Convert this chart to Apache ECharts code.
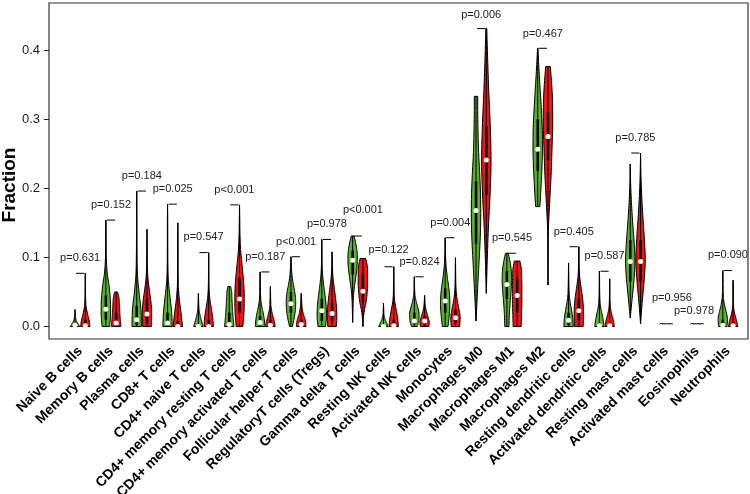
<!DOCTYPE html>
<html><head><meta charset="utf-8">
<script src="https://cdn.jsdelivr.net/npm/echarts@6/dist/echarts.min.js"></script>
<style>html,body{margin:0;padding:0;background:#fff}#c{width:750px;height:494px}</style>
</head><body><div id="c"></div>
<script>
const categories = ['Naive B cells','Memory B cells','Plasma cells','CD8+ T cells','CD4+ naive T cells',
  'CD4+ memory resting T cells','CD4+ memory activated T cells','Follicular helper T cells',
  'RegulatoryT cells (Tregs)','Gamma delta T cells','Resting NK cells','Activated NK cells','Monocytes',
  'Macrophages M0','Macrophages M1','Macrophages M2','Resting dendritic cells','Activated dendritic cells',
  'Resting mast cells','Activated mast cells','Eosinophils','Neutrophils'];
const pLabels = ['p=0.631','p=0.152','p=0.184','p=0.025','p=0.547','p<0.001','p=0.187','p<0.001','p=0.978',
  'p<0.001','p=0.122','p=0.824','p=0.004','p=0.006','p=0.545','p=0.467','p=0.405','p=0.587','p=0.785',
  'p=0.956','p=0.978','p=0.090'];
const bracketTop = [0.077,0.154,0.196,0.177,0.107,0.176,0.079,0.101,0.126,0.131,0.0865,0.072,0.1285,0.431,
  0.106,0.4025,0.1155,0.080,0.251,0.004,0.004,0.081];
const pLabelAt = [0.099,0.176,0.218,0.199,0.129,0.198,0.101,0.123,0.148,0.168,0.111,0.094,0.1505,0.451,
  0.128,0.4225,0.1375,0.102,0.273,0.0416,0.023,0.103];
const yTicks = [0, 0.1, 0.2, 0.3, 0.4];

// Normal group (green): [min, max], [q1, median, q3], relative density widths at 9 levels from min to max
const greenRange = [[0,0.0246],[0,0.154],[0,0.196],[0,0.177],[0,0.048],[0,0.058],[0,0.079],[0,0.101],[0,0.126],
  [0.006,0.131],[0,0.034],[0,0.072],[0,0.1285],[0.008,0.333],[0,0.106],[0.1735,0.4025],[0,0.092],[0,0.080],
  [0.0126,0.235],[0,0.004],[0,0.004],[0,0.081]];
const greenBox = [[0,0.002,0.005],[0.01,0.025,0.045],[0.002,0.01,0.03],[0.001,0.005,0.02],[0,0,0.003],
  [0,0.003,0.02],[0.002,0.006,0.015],[0.02,0.033,0.05],[0.008,0.023,0.04],[0.075,0.096,0.11],[0,0,0.001],
  [0.003,0.008,0.02],[0.02,0.037,0.055],[0.12,0.168,0.21],[0.04,0.061,0.08],[0.225,0.2565,0.3],
  [0.002,0.009,0.02],[0,0.001,0.005],[0.065,0.094,0.125],[0,0,0],[0,0,0],[0,0.002,0.01]];
const greenShape = [
  [1,0.75,0.45,0.25,0.15,0.1,0.06,0.03,0],
  [0.8,1,0.95,0.7,0.3,0.1,0.05,0.03,0],
  [1,0.9,0.5,0.18,0.08,0.05,0.04,0.03,0],
  [1,0.85,0.5,0.18,0.07,0.05,0.04,0.03,0],
  [1,0.75,0.5,0.3,0.15,0.1,0.06,0.03,0],
  [1,0.9,0.8,0.72,0.66,0.6,0.55,0.5,0.3],
  [1,0.9,0.65,0.35,0.15,0.08,0.05,0.03,0],
  [0.3,0.7,0.95,1,0.8,0.45,0.2,0.08,0],
  [0.8,1,0.9,0.65,0.35,0.14,0.06,0.03,0],
  [0,0.05,0.12,0.3,0.6,0.9,1,0.8,0.3],
  [1,0.75,0.45,0.25,0.12,0.08,0.05,0.02,0],
  [0.6,0.95,1,0.75,0.4,0.15,0.07,0.03,0],
  [0.6,0.85,1,0.9,0.6,0.3,0.12,0.05,0],
  [0,0.3,0.6,0.9,1,0.85,0.55,0.4,0.35],
  [0.45,0.5,0.6,0.75,0.9,1,0.95,0.7,0.3],
  [0.45,0.7,0.9,1,0.95,0.75,0.5,0.25,0.05],
  [1,0.9,0.65,0.35,0.15,0.08,0.05,0.03,0],
  [1,0.8,0.5,0.22,0.1,0.06,0.04,0.03,0],
  [0,0.4,0.8,1,0.8,0.5,0.25,0.08,0],
  [0.25,0.25,0.25,0.25,0.25,0.25,0.25,0.25,0.25],
  [0.25,0.25,0.25,0.25,0.25,0.25,0.25,0.25,0.25],
  [0.9,1,0.75,0.4,0.15,0.07,0.04,0.03,0]];

// Tumor group (red)
const redRange = [[0,0.077],[0,0.05],[0,0.1406],[0,0.150],[0,0.107],[0,0.176],[0,0.058],[0,0.048],[0,0.108],
  [0,0.0985],[0,0.0865],[0,0.045],[0,0.0995],[0.048,0.431],[0,0.0947],[0.06,0.376],[0,0.1155],[0,0.069],
  [0.004,0.251],[0,0.004],[0,0.004],[0,0.067]];
const redBox = [[0,0.001,0.01],[0.001,0.005,0.02],[0.005,0.018,0.04],[0,0,0.008],[0,0,0.01],[0.02,0.04,0.07],
  [0,0.002,0.01],[0,0.003,0.01],[0.008,0.019,0.035],[0.035,0.051,0.075],[0,0.001,0.01],[0.002,0.008,0.015],
  [0.005,0.0126,0.025],[0.19,0.241,0.29],[0.02,0.045,0.07],[0.24,0.275,0.31],[0.008,0.023,0.04],
  [0,0.001,0.005],[0.065,0.094,0.125],[0,0,0],[0,0,0],[0,0.001,0.006]];
const redShape = [
  [1,0.8,0.45,0.18,0.08,0.05,0.04,0.03,0],
  [1,0.95,0.85,0.8,0.75,0.7,0.65,0.55,0.3],
  [0.9,1,0.85,0.5,0.2,0.08,0.05,0.03,0],
  [1,0.7,0.35,0.12,0.06,0.04,0.03,0.02,0],
  [1,0.85,0.55,0.25,0.1,0.05,0.04,0.03,0],
  [0.7,0.95,1,0.85,0.55,0.25,0.1,0.05,0],
  [1,0.85,0.55,0.3,0.14,0.08,0.05,0.03,0],
  [1,0.95,0.75,0.45,0.28,0.16,0.1,0.06,0],
  [0.9,1,0.95,0.75,0.5,0.25,0.1,0.04,0],
  [0,0.1,0.35,0.7,0.9,1,1,0.95,0.6],
  [1,0.85,0.6,0.3,0.12,0.07,0.05,0.03,0],
  [0.9,1,0.85,0.6,0.35,0.2,0.1,0.05,0],
  [0.9,1,0.75,0.4,0.18,0.08,0.05,0.03,0],
  [0,0.2,0.45,0.8,1,0.85,0.55,0.3,0.1],
  [0.85,0.9,0.95,1,1,1,0.95,0.9,0.6],
  [0,0.03,0.08,0.35,0.65,0.85,1,0.9,0.5],
  [0.9,1,0.95,0.75,0.45,0.18,0.07,0.03,0],
  [1,0.8,0.45,0.2,0.09,0.05,0.04,0.03,0],
  [0,0.35,0.75,1,0.8,0.5,0.25,0.08,0],
  [0.25,0.25,0.25,0.25,0.25,0.25,0.25,0.25,0.25],
  [0.25,0.25,0.25,0.25,0.25,0.25,0.25,0.25,0.25],
  [1,0.75,0.4,0.16,0.07,0.05,0.04,0.03,0]];

// layout: small horizontal nudges (in x units) for a few p labels, as placed in the original
const labelNudge = { 9: 0.5, 19: 0.55, 20: -0.3 };
const GREEN = '#58B02E', RED = '#EE1419';
const FONT = '"Liberation Sans", Arial, sans-serif';

// monotone cubic resampling of a width profile (drawing only)
function resample(w, sub) {
  const n = w.length, d = [], m = [];
  for (let k = 0; k < n - 1; k++) d.push(w[k + 1] - w[k]);
  for (let k = 0; k < n; k++) {
    if (k === 0) m.push(d[0]); else if (k === n - 1) m.push(d[n - 2]);
    else m.push(d[k - 1] * d[k] <= 0 ? 0 : (d[k - 1] + d[k]) / 2);
  }
  const out = [];
  for (let k = 0; k < n - 1; k++) {
    for (let s = 0; s < sub; s++) {
      const t = s / sub, t2 = t * t, t3 = t2 * t;
      const v = (2*t3 - 3*t2 + 1) * w[k] + (t3 - 2*t2 + t) * m[k] + (-2*t3 + 3*t2) * w[k + 1] + (t3 - t2) * m[k + 1];
      out.push([(k + t) / (n - 1), Math.max(0, v)]);
    }
  }
  out.push([1, w[n - 1]]);
  return out;
}

function violinRenderer(range, box, shape, color, offset) {
  return function (params, api) {
    const i = params.dataIndex;
    const x = 3 * i + offset;
    const lo = range[i][0], hi = range[i][1];
    const unit = api.size([1, 0])[0];
    const maxHalf = 0.46 * unit;
    const cx = api.coord([x, 0])[0];
    const prof = resample(shape[i], 6);
    const right = [], left = [];
    prof.forEach(function (p) {
      const py = api.coord([x, lo + (hi - lo) * p[0]])[1];
      right.push([cx + p[1] * maxHalf, py]);
      left.push([cx - p[1] * maxHalf, py]);
    });
    const pts = right.concat(left.reverse());
    const yLo = api.coord([x, lo])[1], yHi = api.coord([x, hi])[1];
    const b = box[i];
    const yQ1 = api.coord([x, b[0]])[1], yMed = api.coord([x, b[1]])[1], yQ3 = api.coord([x, b[2]])[1];
    return {
      type: 'group',
      children: [
        { type: 'polygon', shape: { points: pts }, style: { fill: color, stroke: '#000', lineWidth: 1 } },
        { type: 'line', shape: { x1: cx, y1: yLo, x2: cx, y2: yHi }, style: { stroke: '#000', lineWidth: 1 } },
        { type: 'line', shape: { x1: cx, y1: yQ1, x2: cx, y2: yQ3 }, style: { stroke: '#000', lineWidth: 2.5 } },
        { type: 'circle', shape: { cx: cx, cy: yMed, r: 2.5 }, style: { fill: '#fff' } }
      ]
    };
  };
}

function bracketRenderer(params, api) {
  const i = params.dataIndex;
  const p1 = api.coord([3 * i + 0.1, bracketTop[i]]);
  const p2 = api.coord([3 * i + 0.9, bracketTop[i]]);
  const pt = api.coord([3 * i + 0.5 + (labelNudge[i] || 0), pLabelAt[i]]);
  return {
    type: 'group',
    children: [
      { type: 'line', shape: { x1: p1[0], y1: p1[1], x2: p2[0], y2: p2[1] }, style: { stroke: '#000', lineWidth: 1 } },
      { type: 'text', x: pt[0], y: pt[1], style: { text: pLabels[i], font: '11px ' + FONT, fill: '#222', textAlign: 'center', textVerticalAlign: 'middle' } }
    ]
  };
}

const chart = echarts.init(document.getElementById('c'), null, { renderer: 'canvas' });
chart.setOption({
  backgroundColor: '#fff',
  animation: false,
  grid: { left: 49, right: 2, top: 3, bottom: 155, show: true, borderColor: '#333', borderWidth: 1.2,
    containLabel: false, outerBoundsMode: 'none' },
  xAxis: {
    type: 'value', min: -2.53, max: 65.45,
    splitLine: { show: false }, axisLine: { show: false, onZero: false }, axisTick: { show: false },
    axisLabel: {
      customValues: categories.map(function (_, i) { return 3 * i + 0.5; }),
      formatter: function (v) { return categories[Math.round((v - 0.5) / 3)]; },
      rotate: 45, margin: 10, color: '#000', fontWeight: 'bold', fontSize: 14, fontFamily: FONT
    }
  },
  yAxis: {
    type: 'value', min: -0.018, max: 0.468,
    splitLine: { show: false }, axisLine: { show: false, onZero: false },
    axisTick: { show: true, customValues: yTicks, length: 5, lineStyle: { color: '#222' } },
    axisLabel: { customValues: yTicks, formatter: function (v) { return v.toFixed(1); }, margin: 9, color: '#1a1a1a', fontSize: 13, fontFamily: FONT }
  },
  graphic: [{
    type: 'text', x: 10, y: 185, rotation: Math.PI / 2,
    style: { text: 'Fraction', font: 'bold 19px ' + FONT, fill: '#000', textAlign: 'center', textVerticalAlign: 'middle' }
  }],
  series: [
    { type: 'custom', name: 'Normal', clip: false, renderItem: violinRenderer(greenRange, greenBox, greenShape, GREEN, 0),
      data: categories.map(function (_, i) { return [3 * i, greenRange[i][1]]; }) },
    { type: 'custom', name: 'Tumor', clip: false, renderItem: violinRenderer(redRange, redBox, redShape, RED, 1),
      data: categories.map(function (_, i) { return [3 * i + 1, redRange[i][1]]; }) },
    { type: 'custom', name: 'p', clip: false, renderItem: bracketRenderer,
      data: categories.map(function (_, i) { return [3 * i + 0.5, bracketTop[i]]; }) }
  ]
});
</script></body></html>
